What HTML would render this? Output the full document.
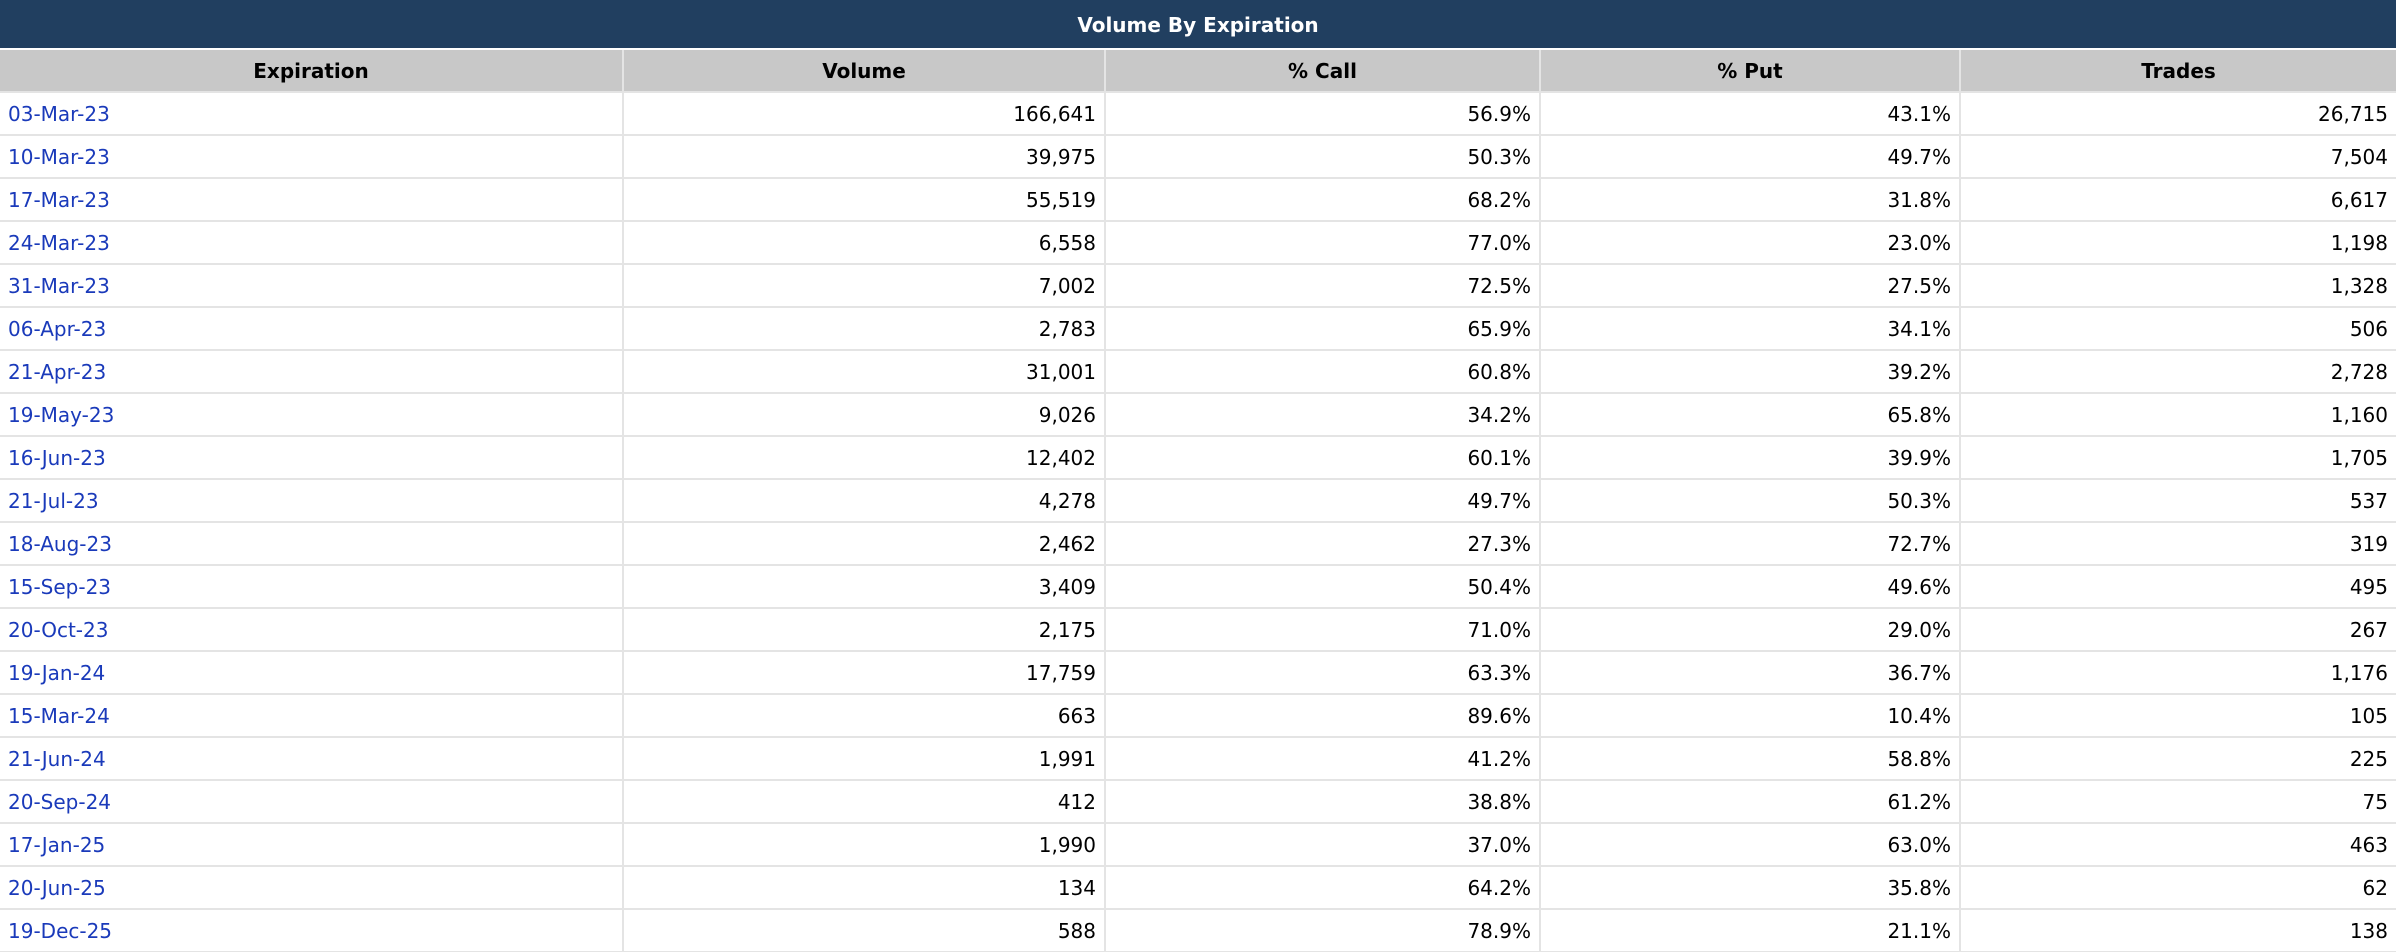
<!DOCTYPE html>
<html><head><meta charset="utf-8"><style>
html,body{margin:0;padding:0;background:#fff;width:2396px;height:952px;overflow:hidden}
body{font-family:"DejaVu Sans","Liberation Sans",sans-serif}
.title{height:50px;background:#213f60;color:#fff;font-weight:bold;font-size:20px;text-align:center;line-height:50px;border-bottom:2px solid #fff;box-sizing:border-box}
table{border-collapse:collapse;table-layout:fixed;width:2396px}
th{background:#c8c8c8;height:41px;font-size:20px;font-weight:bold;color:#000;border:2px solid #e4e4e4;border-top:none;padding:0}
td{height:41px;font-size:20px;color:#000;border:2px solid #e4e4e4;text-align:right;padding:0 8px;white-space:nowrap}
td.d{text-align:left;color:#1a3aba}
tr td:first-child,tr th:first-child{border-left:none}
tr td:last-child,tr th:last-child{border-right:none}
</style></head><body>
<div class="title">Volume By Expiration</div>
<table>
<colgroup><col style="width:623px"><col style="width:482px"><col style="width:435px"><col style="width:420px"><col style="width:436px"></colgroup>
<thead><tr>
<th>Expiration</th>
<th>Volume</th>
<th>% Call</th>
<th>% Put</th>
<th>Trades</th>
</tr></thead>
<tbody id="tb"></tbody></table>
<script>
const dates=["03-Mar-23","10-Mar-23","17-Mar-23","24-Mar-23","31-Mar-23","06-Apr-23","21-Apr-23","19-May-23","16-Jun-23","21-Jul-23","18-Aug-23","15-Sep-23","20-Oct-23","19-Jan-24","15-Mar-24","21-Jun-24","20-Sep-24","17-Jan-25","20-Jun-25","19-Dec-25"];
const volumes=["166,641","39,975","55,519","6,558","7,002","2,783","31,001","9,026","12,402","4,278","2,462","3,409","2,175","17,759","663","1,991","412","1,990","134","588"];
const calls=["56.9%","50.3%","68.2%","77.0%","72.5%","65.9%","60.8%","34.2%","60.1%","49.7%","27.3%","50.4%","71.0%","63.3%","89.6%","41.2%","38.8%","37.0%","64.2%","78.9%"];
const puts=["43.1%","49.7%","31.8%","23.0%","27.5%","34.1%","39.2%","65.8%","39.9%","50.3%","72.7%","49.6%","29.0%","36.7%","10.4%","58.8%","61.2%","63.0%","35.8%","21.1%"];
const trades=["26,715","7,504","6,617","1,198","1,328","506","2,728","1,160","1,705","537","319","495","267","1,176","105","225","75","463","62","138"];
const tb=document.getElementById('tb');
dates.forEach((d,i)=>{
  const tr=document.createElement('tr');
  
  
  const vals=[d,volumes[i],calls[i],puts[i],trades[i]];
  const names=['expiration-link','volume-cell','call-pct-cell','put-pct-cell','trades-cell'];
  vals.forEach((v,j)=>{
    const td=document.createElement('td');
    if(j===0){td.className='d';}
    
    
    td.textContent=v;
    tr.appendChild(td);
  });
  tb.appendChild(tr);
});
</script>
</body></html>
